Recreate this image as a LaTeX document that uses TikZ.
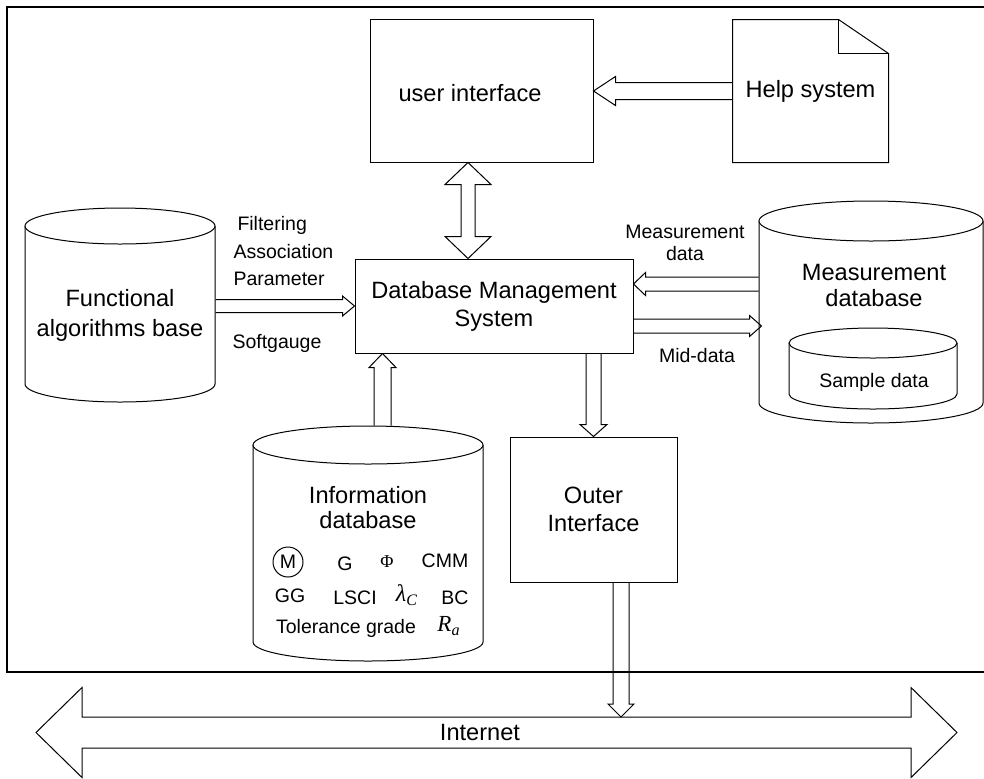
\documentclass[tikz,border=0pt]{standalone}
\usepackage{fontspec}
\setmainfont{Liberation Sans}
\newfontfamily\serifff{Liberation Serif}
\usetikzlibrary{calc}
\newcommand\bigf{\fontsize{11.8}{14}\selectfont}
\newcommand\smallf{\fontsize{9.75}{12}\selectfont}
% single hollow block arrow: #1 start, #2 tip, #3 shaft half width, #4 head half width, #5 head length
\newcommand\singlearrow[5]{%
  \coordinate (sa-b) at ($(#2)!#5!(#1)$);
  \draw[blk] ($(#1)!#3!90:(#2)$) -- ($(sa-b)!#3!-90:(#1)$) -- ($(sa-b)!#4!-90:(#1)$) -- (#2)
    -- ($(sa-b)!#4!90:(#1)$) -- ($(sa-b)!#3!90:(#1)$) -- ($(#1)!#3!-90:(#2)$);
}
% double hollow block arrow: #1 tip, #2 tip, #3 shaft half width, #4 head half width, #5 head length
\newcommand\doublearrow[5]{%
  \coordinate (da-b1) at ($(#1)!#5!(#2)$);
  \coordinate (da-b2) at ($(#2)!#5!(#1)$);
  \draw[blk] (#1) -- ($(da-b1)!#4!90:(#2)$) -- ($(da-b1)!#3!90:(#2)$) -- ($(da-b2)!#3!-90:(#1)$)
    -- ($(da-b2)!#4!-90:(#1)$) -- (#2) -- ($(da-b2)!#4!90:(#1)$) -- ($(da-b2)!#3!90:(#1)$)
    -- ($(da-b1)!#3!-90:(#2)$) -- ($(da-b1)!#4!-90:(#2)$) -- cycle;
}
% cylinder: #1 name, #2 cx, #3 top-ellipse cy, #4 bottom cy, #5 rx, #6 ry (pixels)
\newcommand\cyl[6]{%
  \node[inner sep=0pt, minimum width={#5*1pt}, minimum height={(#4-#3+2*#6)*0.5pt}] (#1) at ({#2},{(#3+#4)/2}) {};
  \draw[fill=white] ({#2-#5},{#3}) -- ({#2-#5},{#4})
    arc[start angle=180, end angle=360, x radius={#5*0.5pt}, y radius={#6*0.5pt}] -- ({#2+#5},{#3});
  \draw[fill=white] ({#2},{#3}) ellipse[x radius={#5*0.5pt}, y radius={#6*0.5pt}];
}
\begin{document}
\begin{tikzpicture}[x=0.5pt, y=-0.5pt, line width=0.5pt, line join=miter,
  blk/.style={draw, line width=0.5pt},
  box/.style={draw, inner sep=0pt, align=center, font=\bigf},
  bigtxt/.style={inner sep=0pt, align=center, font=\bigf},
  smalltxt/.style={inner sep=0pt, align=center, font=\smallf}]
\useasboundingbox (0,0) rectangle (984,778);

% main boxes
\node[draw, inner sep=0pt, minimum width=111.5pt, minimum height=71.5pt] (ui) at (481.5,90.5) {};
\node[bigtxt] (ui-t) at (470,93) {user interface};
\node[inner sep=0pt, minimum width=77.5pt, minimum height=71pt, font=\bigf] (help) at (810.5,91) {Help system};
\draw (help.north west) -- ($(help.north east)+(-50,0)$) -- ($(help.north east)+(0,34)$)
  -- (help.south east) -- (help.south west) -- cycle;
\draw ($(help.north east)+(-50,0)$) -- ($(help.north east)+(-50,34)$) -- ($(help.north east)+(0,34)$);
\node[box, minimum width=139pt, minimum height=47pt, font={\fontsize{11.8}{14}\selectfont}] (dbms) at (494,306) {Database Management\\System};
\node[box, minimum width=83.5pt, minimum height=72.5pt] (outer) at (593.5,509.5) {Outer\\Interface};

% cylinders
\cyl{func}{120}{226}{384}{95}{18}
\node[bigtxt, font={\fontsize{11.8}{15}\selectfont}] (func-t) at (120,315) {Functional\\algorithms base};
\cyl{meas}{871}{221}{403}{112}{20}
\node[bigtxt, font={\fontsize{11.8}{13}\selectfont}] (meas-t) at (874,285) {Measurement\\database};
\cyl{sample}{873}{343}{394}{84}{15}
\node[smalltxt] (sample-t) at (874,382) {Sample data};
\cyl{info}{368}{445}{642}{115}{19}
\node[bigtxt, font={\fontsize{11.8}{12.5}\selectfont}] (info-t) at (368,507.5) {Information\\database};
\node[draw, circle, inner sep=0pt, minimum size=15pt, font=\smallf] (sym-m) at (288,562) {M};
\node[smalltxt] (sym-g) at (345,564) {G};
\node[inner sep=0pt, font={\serifff\fontsize{9}{9}\selectfont}] (sym-phi) at (387,562) {Φ};
\node[smalltxt] (sym-cmm) at (445,561) {CMM};
\node[smalltxt] (sym-gg) at (290,596) {GG};
\node[smalltxt] (sym-lsci) at (355,598) {LSCI};
\node[inner sep=0pt, font={\serifff\itshape\fontsize{12}{12}\selectfont}] (sym-lam) at (407,595) {λ\textsubscript{C}};
\node[smalltxt] (sym-bc) at (455,598) {BC};
\node[smalltxt] (sym-tol) at (346,628) {Tolerance grade};
\node[inner sep=0pt, font={\serifff\itshape\fontsize{11.5}{12}\selectfont}] (sym-ra) at (449,626) {R\textsubscript{a}};

% connector labels
\node[smalltxt, anchor=west] (l-filt) at (237,225) {Filtering};
\node[smalltxt, anchor=west] (l-assoc) at (233,252) {Association};
\node[smalltxt, anchor=west] (l-param) at (233,279) {Parameter};
\node[smalltxt, anchor=west] (l-soft) at (232,343) {Softgauge};
\node[smalltxt] (l-meas1) at (685,232) {Measurement};
\node[smalltxt] (l-meas2) at (685,254) {data};
\node[smalltxt] (l-mid) at (697,356) {Mid-data};

% arrows
\coordinate (h-s) at (help.west);
\coordinate (h-t) at (ui.east |- help.west);
\singlearrow{h-s}{h-t}{4.25pt}{7.25pt}{11pt}

\coordinate (u-t) at ($(ui.south)+(-13.5,0)$);
\coordinate (d-t2) at (u-t |- dbms.north);
\doublearrow{u-t}{d-t2}{3.5pt}{11.5pt}{11pt}

\coordinate (f-t) at (dbms.west);
\coordinate (f-s) at (func.east |- dbms.west);
\singlearrow{f-s}{f-t}{3.25pt}{5pt}{6pt}

\coordinate (i-s) at ($(info.north)+(14.5,0)$);
\coordinate (i-t) at (i-s |- dbms.south);
\singlearrow{i-s}{i-t}{4.25pt}{6.75pt}{7pt}

\coordinate (o-t5) at (outer.north);
\coordinate (o-s5) at (outer.north |- dbms.south);
\singlearrow{o-s5}{o-t5}{3.75pt}{6.75pt}{6pt}

\coordinate (m-t) at ($(dbms.east)+(0,-22)$);
\coordinate (m-s) at (meas.west |- m-t);
\singlearrow{m-s}{m-t}{3.5pt}{5.75pt}{6pt}

\coordinate (d-s) at ($(dbms.east)+(0,20)$);
\coordinate (d-t) at ($(meas.west |- d-s)+(3,0)$);
\singlearrow{d-s}{d-t}{3.5pt}{5.25pt}{6pt}

% internet
\coordinate (inet-l) at (36,732.5);
\coordinate (inet-r) at (957,732.5);
\doublearrow{inet-l}{inet-r}{7.75pt}{22.5pt}{23pt}
\node[bigtxt] (inet) at (480,732) {Internet};

\coordinate (o-s) at ($(outer.south)+(27.5,0)$);
\coordinate (o-t) at ($(o-s |- inet-l)+(0,-15.5)$);
\singlearrow{o-s}{o-t}{4pt}{6.5pt}{6.5pt}

% frame
\draw[line width=1pt] (984,7) -- (7,7) -- (7,672) -- (984,672);
\end{tikzpicture}
\end{document}
